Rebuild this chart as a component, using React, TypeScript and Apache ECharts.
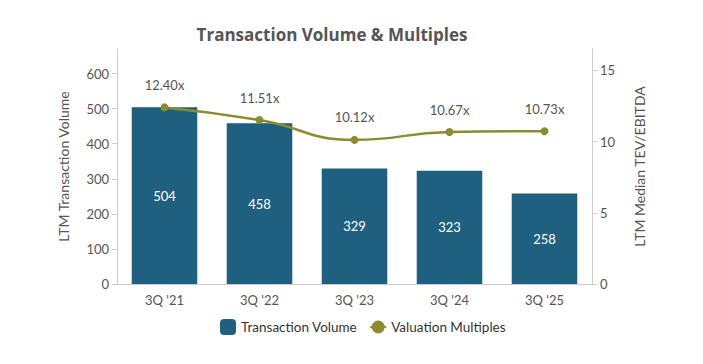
import React, { useEffect, useRef } from "react";
import * as echarts from "echarts";

const categories = ["3Q '21", "3Q '22", "3Q '23", "3Q '24", "3Q '25"];
const transactionVolume = [504, 458, 329, 323, 258];
const valuationMultiples = [12.4, 11.51, 10.12, 10.67, 10.73];

const FONT = "Lato";
const GRAY = "#555555";

export default function App() {
  const ref = useRef<HTMLDivElement>(null);
  useEffect(() => {
    if (!ref.current) return;
    const chart = echarts.init(ref.current, undefined, { renderer: "svg" });
    chart.setOption({
      animation: false,
      backgroundColor: "#ffffff",
      textStyle: { fontFamily: FONT },
      title: {
        text: "Transaction Volume & Multiples",
        left: 327,
        textAlign: "center",
        top: 21,
        textStyle: { fontFamily: "Open Sans", fontSize: 17, fontWeight: "bold", color: "#555555" },
      },
      legend: {
        bottom: 24,
        left: 215,
        itemGap: 12,
        itemWidth: 16,
        itemHeight: 16,
        textStyle: { fontFamily: FONT, fontSize: 13.5, color: "#333" },
        data: [
          { name: "Transaction Volume", icon: "roundRect" },
          { name: "Valuation Multiples" },
        ],
      },
      grid: { left: 117, right: 111, top: 49, bottom: 80 },
      xAxis: {
        type: "category",
        data: categories,
        axisLine: { lineStyle: { color: "#cccccc" } },
        axisTick: { show: false },
        axisLabel: { fontFamily: FONT, fontSize: 13, color: GRAY, margin: 9 },
      },
      yAxis: [
        {
          type: "value",
          min: 0,
          max: 670,
          interval: 100,
          name: "LTM Transaction Volume",
          nameLocation: "middle",
          nameRotate: 90,
          nameGap: 47,
          nameTextStyle: { fontFamily: FONT, fontSize: 14, color: GRAY },
          axisLine: { show: true, lineStyle: { color: "#cccccc" } },
          axisTick: { show: true, length: 5, lineStyle: { color: "#cccccc" } },
          axisLabel: { fontFamily: FONT, fontSize: 13, color: GRAY, showMaxLabel: false, margin: 8 },
          splitLine: { show: false },
        },
        {
          type: "value",
          min: 0,
          max: 16.5,
          interval: 5,
          name: "LTM Median TEV/EBITDA",
          nameLocation: "middle",
          nameRotate: 90,
          nameGap: 40,
          nameTextStyle: { fontFamily: FONT, fontSize: 14, color: GRAY },
          axisLine: { show: true, lineStyle: { color: "#cccccc" } },
          axisTick: { show: true, length: 5, lineStyle: { color: "#cccccc" } },
          axisLabel: { fontFamily: FONT, fontSize: 13, color: GRAY, showMaxLabel: false, margin: 8 },
          splitLine: { show: false },
        },
      ],
      series: [
        {
          name: "Transaction Volume",
          type: "bar",
          data: transactionVolume,
          barWidth: "69%",
          itemStyle: { color: "#1f5f80" },
          label: {
            show: true,
            position: "inside",
            color: "#ffffff",
            fontFamily: FONT,
            fontSize: 13,
          },
        },
        {
          name: "Valuation Multiples",
          type: "line",
          yAxisIndex: 1,
          data: valuationMultiples,
          smooth: 0.5,
          symbol: "circle",
          symbolSize: 8,
          lineStyle: { color: "#8b8b2f", width: 2.5 },
          itemStyle: { color: "#8b8b2f" },
          label: {
            show: true,
            position: "top",
            distance: 12,
            color: GRAY,
            fontFamily: FONT,
            fontSize: 13,
            formatter: (p: any) => p.value.toFixed(2) + "x",
          },
        },
      ],
    });
    return () => chart.dispose();
  }, []);
  return (
    <div
      ref={ref}
      style={{ position: "fixed", left: 0, top: 0, width: 703, height: 364 }}
    />
  );
}
